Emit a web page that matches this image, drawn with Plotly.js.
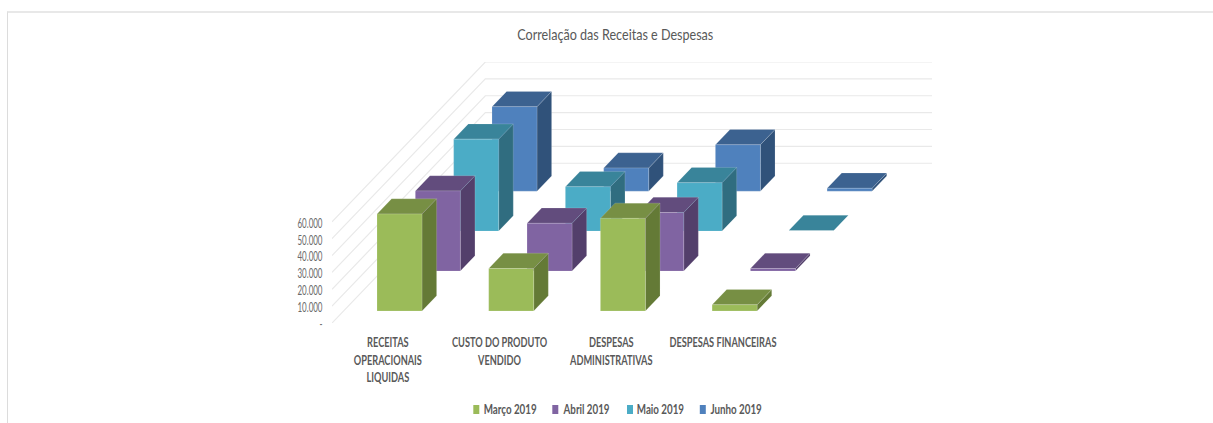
<!DOCTYPE html>
<html><head><meta charset="utf-8">
<script src="https://cdn.plot.ly/plotly-3.0.1.min.js"></script>
<style>
html,body{margin:0;padding:0;background:#fff;overflow:hidden}
#frame{position:absolute;left:7px;top:11px;width:1206px;height:412px;border-top:2px solid #e8e8e8;border-left:1px solid #dcdcdc;box-sizing:border-box}
#chart{position:absolute;left:0;top:0;width:1213px;height:423px}
</style></head><body>
<div id="frame"></div><div id="chart"></div>
<script>
const categories = ['RECEITAS<br>OPERACIONAIS<br>LIQUIDAS','CUSTO DO PRODUTO<br>VENDIDO','DESPESAS<br>ADMINISTRATIVAS','DESPESAS FINANCEIRAS'];
const seriesNames = ['Março 2019','Abril 2019','Maio 2019','Junho 2019'];
const marco = [57500,25200,54900,3700];
const abril = [47500,28300,34700,1500];
const maio  = [54500,26300,28700,300];
const junho = [50100,13700,27500,1700];
const tickValues = [0,10000,20000,30000,40000,50000,60000];
const tickLabels = ['-','10.000','20.000','30.000','40.000','50.000','60.000'];
const frontColors = ['#9BBB59','#8064A2','#4BACC6','#4F81BD'];
const topColors   = ['#778F44','#624C7D','#39849A','#3C6290'];
const sideColors  = ['#647A36','#533F6B','#306D80','#30527A'];

const allValues = [marco,abril,maio,junho];
const FONT = 'Lato,"Liberation Sans",sans-serif';
const TEXT = '#595959', GRID = '#e9e9e9';

// plot-area pixel box, and the oblique projection in axis units
const L=331.7,R=931.7,T=62.3,B=322.7;
const PXCAT=111.7, PXVAL=16.83/10000;
const DX=38.33/PXCAT, DY=39.85/PXVAL;   // one series step of depth
const W=45/PXCAT, BARDEPTH=15.2/39.85;
const INSETD=12/39.85, INSET=(45-INSETD*38.33)/PXCAT;
const xmax=(R-L)/PXCAT, ymax=(B-T)/PXVAL;
const proj=(c,v,d)=>[c+d*DX, v+d*DY];
const px=x=>(x-L)/(R-L), py=y=>(B-y)/(B-T);

function poly(points,xs,ys){points.forEach(p=>{xs.push(p[0]);ys.push(p[1]);});xs.push(points[0][0],null);ys.push(points[0][1],null);}

const traces=[];
tickValues.forEach(v=>{
  const a=proj(0,v,0),b=proj(0,v,4),c=proj(4,v,4);
  traces.push({x:[a[0],b[0],c[0]],y:[a[1],b[1],c[1]],mode:'lines',line:{color:GRID,width:1.2},hoverinfo:'skip',showlegend:false});
});
for(let s=3;s>=0;s--){
  const f={x:[],y:[]},t={x:[],y:[]},r={x:[],y:[]};
  allValues[s].forEach((v,i)=>{
    const c0=i+INSET, c1=c0+W;
    const d0=s+INSETD, d1=d0+BARDEPTH;
    poly([proj(c0,0,d0),proj(c1,0,d0),proj(c1,v,d0),proj(c0,v,d0)],f.x,f.y);
    poly([proj(c0,v,d0),proj(c1,v,d0),proj(c1,v,d1),proj(c0,v,d1)],t.x,t.y);
    poly([proj(c1,0,d0),proj(c1,0,d1),proj(c1,v,d1),proj(c1,v,d0)],r.x,r.y);
  });
  const base={mode:'lines',fill:'toself',line:{width:0.7,color:'rgba(255,255,255,0.22)'},hoverinfo:'skip',showlegend:false};
  traces.push({...base,...r,fillcolor:sideColors[s]});
  traces.push({...base,...t,fillcolor:topColors[s]});
  traces.push({...base,...f,fillcolor:frontColors[s],name:seriesNames[s]});
}
// legend row
const keyLeft=[473,552,626.7,699.5], labelCenter=[510,586,660,736];
const shapes=seriesNames.map((n,i)=>({type:'rect',xref:'paper',yref:'paper',x0:px(keyLeft[i]),x1:px(keyLeft[i]+6),y0:py(413.5),y1:py(404.5),fillcolor:frontColors[i],line:{width:0}}));
const annotations=seriesNames.map((n,i)=>({text:n,xref:'paper',yref:'paper',x:px(labelCenter[i]),y:py(409),xanchor:'center',yanchor:'middle',showarrow:false,borderpad:0,font:{family:FONT,size:13,color:TEXT,weight:700}}));

const layout={
  width:1213,height:423,paper_bgcolor:'rgba(0,0,0,0)',plot_bgcolor:'rgba(0,0,0,0)',showlegend:false,shapes,annotations,
  margin:{l:L,r:1213-R,t:T,b:423-B,pad:0},
  title:{text:'Correlação das Receitas e Despesas',xref:'paper',x:px(615),xanchor:'center',yref:'container',y:1-34/423,yanchor:'middle',font:{family:FONT,size:16,color:TEXT}},
  xaxis:{range:[0,xmax],tickmode:'array',tickvals:[0.5,1.5,2.5,3.5],ticktext:categories,tickangle:0,showgrid:false,zeroline:false,showline:false,ticks:'',
    tickfont:{family:FONT,size:13,color:TEXT,weight:700},ticklabelstandoff:10,fixedrange:true},
  yaxis:{range:[0,ymax],tickmode:'array',tickvals:tickValues,ticktext:tickLabels,showgrid:false,zeroline:false,showline:false,ticks:'outside',ticklen:6,tickcolor:'rgba(0,0,0,0)',
    tickfont:{family:FONT,size:12.5,color:'#6b6b6b'},ticklabelstandoff:0,fixedrange:true}
};

// The reference's text is horizontally condensed: squeeze each label's glyphs to the reference's width.
function squeeze(el,scale){
  const lines=el.querySelectorAll('tspan.line');
  const parts=lines.length?[...lines]:[el];
  parts.forEach(p=>{
    const w=p.getComputedTextLength();
    p.setAttribute('lengthAdjust','spacingAndGlyphs');
    p.setAttribute('textLength',(w*scale).toFixed(1));
  });
}
function natural(els,text){const e=[...els].map(x=>[...x.querySelectorAll('tspan.line'),x]).flat().find(x=>x.textContent===text);return e?e.getComputedTextLength():1;}
Plotly.newPlot('chart',traces,layout,{displayModeBar:false,staticPlot:true}).then(()=>{
  const title=document.querySelectorAll('.gtitle');
  const xt=document.querySelectorAll('.xtick text'), yt=document.querySelectorAll('.ytick text'), an=document.querySelectorAll('.annotation text');
  const sx=107/natural(xt,'DESPESAS FINANCEIRAS'), sy=25/natural(yt,'60.000'), sa=53/natural(an,'Março 2019');
  title.forEach(e=>squeeze(e,196/e.getComputedTextLength()));
  xt.forEach(e=>{
    squeeze(e,sx);
    e.querySelectorAll('tspan.line').forEach((t,i)=>t.setAttribute('dy',(i*17.7)+'px'));
  });
  yt.forEach(e=>{squeeze(e,sy);e.setAttribute('dy','1.5');});
  an.forEach(e=>squeeze(e,sa));
});
</script></body></html>
